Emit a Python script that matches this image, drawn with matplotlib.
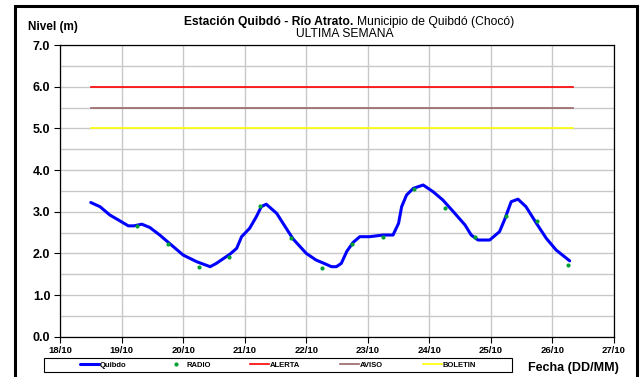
import matplotlib
matplotlib.use("Agg")
import matplotlib.pyplot as plt
from matplotlib.patches import Rectangle
from matplotlib.ticker import MultipleLocator, FormatStrFormatter

plt.rcParams['font.family'] = ['Liberation Sans', 'DejaVu Sans']

# nivel del rio (m), tiempo en dias desde el 18/10 00:00
nivel_dias = [0.50, 0.65, 0.81, 0.95, 1.11, 1.20, 1.33, 1.46, 1.62, 1.81,
              2.00, 2.22, 2.44, 2.54, 2.76, 2.87, 2.95, 3.08, 3.19, 3.27,
              3.35, 3.52, 3.71, 3.79, 4.00, 4.16, 4.32, 4.41, 4.49, 4.57,
              4.66, 4.76, 4.87, 5.03, 5.25, 5.41, 5.50, 5.55, 5.63, 5.74,
              5.90, 6.06, 6.22, 6.39, 6.58, 6.68, 6.79, 6.98, 7.14, 7.22,
              7.33, 7.44, 7.57, 7.74, 7.90, 8.06, 8.28]
nivel_m = [3.22, 3.12, 2.92, 2.80, 2.66, 2.66, 2.70, 2.62, 2.44, 2.20,
           1.96, 1.80, 1.68, 1.76, 1.98, 2.12, 2.40, 2.60, 2.88, 3.12,
           3.18, 2.96, 2.52, 2.34, 2.00, 1.84, 1.74, 1.68, 1.68, 1.76,
           2.05, 2.26, 2.40, 2.40, 2.44, 2.44, 2.72, 3.12, 3.40, 3.56,
           3.64, 3.48, 3.28, 3.00, 2.68, 2.44, 2.32, 2.32, 2.52, 2.80,
           3.24, 3.30, 3.12, 2.72, 2.36, 2.08, 1.82]

# reportes por radio (06:00 y 18:00)
radio_dias = [1.25, 1.75, 2.25, 2.75, 3.25, 3.75, 4.25, 4.75,
              5.25, 5.75, 6.25, 6.75, 7.25, 7.75, 8.25]
radio_m = [2.66, 2.22, 1.68, 1.92, 3.14, 2.38, 1.64, 2.22,
           2.39, 3.54, 3.10, 2.40, 2.90, 2.78, 1.72]

# umbrales
umbral_dias = [0.5, 8.33]
alerta = 6.0
aviso = 5.5
boletin = 5.0

fechas = ['18/10', '19/10', '20/10', '21/10', '22/10',
          '23/10', '24/10', '25/10', '26/10', '27/10']

fig = plt.figure(figsize=(6.4, 3.77), dpi=100)
ax = fig.add_axes([60/640, 1-336.7/377, 554/640, 291.7/377])

ax.plot(umbral_dias, [alerta]*2, color='#ff0000', lw=1.2, label='ALERTA', zorder=3)
ax.plot(umbral_dias, [aviso]*2, color='#996666', lw=1.2, label='AVISO', zorder=3)
ax.plot(umbral_dias, [boletin]*2, color='#ffff00', lw=1.2, label='BOLETIN', zorder=3)
ax.plot(nivel_dias, nivel_m, color='#0000ff', lw=2.2, solid_joinstyle='round',
        solid_capstyle='round', label='Quibdo', zorder=4)
ax.plot(radio_dias, radio_m, ls='none', marker='o', ms=3, color='#00a032',
        mec='none', label='RADIO', zorder=5)

ax.set_xlim(0, 9)
ax.set_ylim(0, 7)
ax.set_xticks(range(len(fechas)))
ax.set_xticklabels(fechas)
ax.yaxis.set_major_locator(MultipleLocator(1))
ax.yaxis.set_minor_locator(MultipleLocator(0.5))
ax.yaxis.set_major_formatter(FormatStrFormatter('%.1f'))
ax.tick_params(axis='y', which='major', labelsize=9, length=4, width=0.8, pad=3)
ax.tick_params(axis='y', which='minor', length=0)
ax.tick_params(axis='x', labelsize=6.8, length=4, width=0.8, pad=3)
for lab in ax.get_xticklabels() + ax.get_yticklabels():
    lab.set_fontweight('bold')

ax.grid(True, axis='y', which='both', color='#c8c8c8', lw=1.0, zorder=0)
ax.grid(True, axis='x', which='major', color='#c8c8c8', lw=1.0, zorder=0)
ax.set_axisbelow(True)
for s in ax.spines.values():
    s.set_color('black')
    s.set_linewidth(0.9)

# titulos
fig.text(353/640, 1-22/377, 'Estación Quibdó - Río Atrato.', ha='right', va='center',
         fontsize=8.75, fontweight='bold')
fig.text(357/640, 1-22/377, 'Municipio de Quibdó (Chocó)', ha='left', va='center',
         fontsize=8.75)
fig.text(345/640, 1-34/377, 'ULTIMA SEMANA', ha='center', va='center', fontsize=8.75)
fig.text(28/640, 1-27/377, 'Nivel (m)', ha='left', va='center', fontsize=8.5,
         fontweight='bold')
fig.text(528/640, 1-368/377, 'Fecha (DD/MM)', ha='left', va='center', fontsize=9,
         fontweight='bold')

# leyenda: entradas sin marco, el recuadro se dibuja aparte
handles, labels = ax.get_legend_handles_labels()
orden = [3, 4, 0, 1, 2]
leg = fig.legend([handles[i] for i in orden], [labels[i] for i in orden],
                 loc='center left', ncol=5,
                 bbox_to_anchor=(80/640, 1-365/377),
                 prop={'size': 5.5, 'weight': 'bold'}, handlelength=2.5,
                 handletextpad=0.1, columnspacing=5.2, borderpad=0,
                 frameon=False, borderaxespad=0)
fig.patches.append(Rectangle((44/640, 1-372/377), 468/640, 14/377,
                             transform=fig.transFigure, fill=False,
                             edgecolor='black', lw=0.8))

# marco exterior del grafico
fig.patches.append(Rectangle((15/640, -0.05), 622/640, 1.05-6/377,
                             transform=fig.transFigure, fill=False,
                             edgecolor='black', lw=2.2))

fig.savefig('out.png', dpi=100)
